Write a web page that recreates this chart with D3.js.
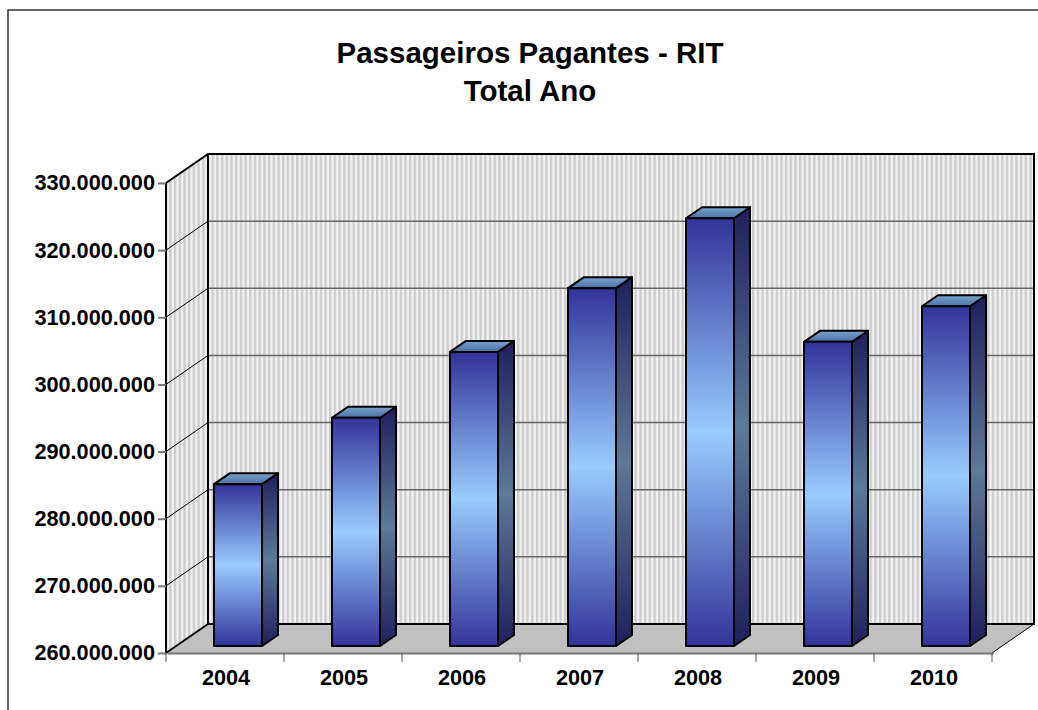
<!DOCTYPE html>
<html>
<head>
<meta charset="utf-8">
<script src="https://cdn.jsdelivr.net/npm/d3@7"></script>
<style>
  html, body { margin: 0; padding: 0; background: #fff; overflow: hidden; }
  text { font-family: "Liberation Sans", Arial, sans-serif; font-weight: bold; fill: #000; }
</style>
</head>
<body>
<script>
const years = ['2004', '2005', '2006', '2007', '2008', '2009', '2010'];
const passengers = [284100000, 294000000, 303800000, 313300000, 323700000, 305300000, 310600000];
const yTicks = [260000000, 270000000, 280000000, 290000000, 300000000, 310000000, 320000000, 330000000];
const titleLines = ['Passageiros Pagantes - RIT', 'Total Ano'];

const w = 1038, h = 710;
let left = 166, right = 992, top_ = 183, bottom = 653;
let depthX = 42, depthY = 29;   // wall offset
let barDx = 13, barDy = 7;      // bar front face sits inside the floor
let barW = 48, barDepthX = 16, barDepthY = 11;

let xScale = d3.scaleBand().domain(years).range([left, right]);
let yScale = d3.scaleLinear().domain([260000000, 330000000]).range([bottom, top_]);

let svg = d3.select('body').append('svg').attr('width', w).attr('height', h)
  .style('display', 'block');

let defs = svg.append('defs');

// hatched wall
let pat = defs.append('pattern').attr('id', 'wall')
  .attr('patternUnits', 'userSpaceOnUse').attr('width', 4.7).attr('height', 10);
pat.append('rect').attr('width', 4.7).attr('height', 10).attr('fill', '#f2f2f2');
pat.append('rect').attr('x', 0).attr('width', 2.4).attr('height', 10).attr('fill', '#cccccc');

let addGrad = (id, x2, y2, stops) => {
  let g = defs.append('linearGradient').attr('id', id)
    .attr('x1', 0).attr('y1', 0).attr('x2', x2).attr('y2', y2);
  stops.forEach(s => g.append('stop').attr('offset', s[0]).attr('stop-color', s[1]));
};
addGrad('front', 0, 1, [[0, '#333399'], [0.5, '#99ccff'], [1, '#333399']]);
addGrad('side', 0, 1, [[0, '#1f1f5c'], [0.5, '#5c7a99'], [1, '#1f1f5c']]);
addGrad('cap', 0, 1, [[0, '#7aa3cc'], [1, '#4d6fa8']]);

// chart frame
svg.append('path')
  .attr('d', d3.line()([[8, h], [8, 10], [w, 10]]))
  .attr('fill', 'none').attr('stroke', '#333').attr('stroke-width', 1.5);

let yBack = v => yScale(v) - depthY;
let backL = left + depthX, backR = right + depthX;

// walls
svg.append('rect').attr('x', backL).attr('y', top_ - depthY)
  .attr('width', backR - backL).attr('height', bottom - top_)
  .attr('fill', 'url(#wall)');
svg.append('polygon')
  .attr('points', [[left, top_], [backL, top_ - depthY], [backL, bottom - depthY], [left, bottom]].join(' '))
  .attr('fill', 'url(#wall)');

// floor
svg.append('polygon')
  .attr('points', [[left, bottom], [backL, bottom - depthY], [backR, bottom - depthY], [right, bottom]].join(' '))
  .attr('fill', '#c0c0c0');

// gridlines
svg.selectAll('line.grid').data(yTicks.slice(1, -1)).enter().append('line')
  .attr('class', 'grid')
  .attr('x1', backL).attr('x2', backR)
  .attr('y1', yBack).attr('y2', yBack)
  .attr('stroke', '#666').attr('stroke-width', 1.5);
svg.selectAll('line.gridside').data(yTicks.slice(1, -1)).enter().append('line')
  .attr('class', 'gridside')
  .attr('x1', left).attr('x2', backL)
  .attr('y1', d => yScale(d)).attr('y2', yBack)
  .attr('stroke', '#000').attr('stroke-width', 1);

// wall outlines
svg.append('path')
  .attr('d', d3.line()([[left, bottom], [left, top_], [backL, top_ - depthY], [backR, top_ - depthY], [backR, bottom - depthY], [backL, bottom - depthY], [backL, top_ - depthY]]))
  .attr('fill', 'none').attr('stroke', '#000').attr('stroke-width', 2);
svg.append('line').attr('x1', left).attr('y1', bottom).attr('x2', backL).attr('y2', bottom - depthY)
  .attr('stroke', '#000').attr('stroke-width', 2);
svg.append('line').attr('x1', right).attr('y1', bottom).attr('x2', backR).attr('y2', bottom - depthY)
  .attr('stroke', '#000').attr('stroke-width', 1);

// axes
let yAxis = d3.axisLeft(yScale).tickValues(yTicks).tickSize(8).tickPadding(3)
  .tickFormat(d => d3.format(',')(d).replace(/,/g, '.'));
let yG = svg.append('g').attr('transform', 'translate(' + left + ',0)').call(yAxis);
yG.select('.domain').remove();
yG.selectAll('line').attr('stroke', '#777').attr('stroke-width', 2);
yG.selectAll('text').style('font-size', '21.7px').attr('dy', '0.32em');

let xAxis = d3.axisBottom(xScale).tickSize(0).tickPadding(17);
let xG = svg.append('g').attr('transform', 'translate(1,' + bottom + ')').call(xAxis);
xG.select('.domain').attr('stroke', '#777').attr('stroke-width', 2);
xG.selectAll('text').style('font-size', '21.7px');
xG.selectAll('line.sep').data(d3.range(years.length + 1)).enter().append('line')
  .attr('class', 'sep')
  .attr('x1', i => left - 1 + i * xScale.step()).attr('x2', i => left - 1 + i * xScale.step())
  .attr('y1', 0).attr('y2', 9)
  .attr('stroke', '#555').attr('stroke-width', 1);

// bars
let barX = d => xScale(d) + xScale.bandwidth() / 2 - barW / 2 + barDx;
let bars = svg.selectAll('g.bar').data(years.map((y, i) => ({ y: y, v: passengers[i] })))
  .enter().append('g').attr('class', 'bar')
  .attr('stroke', '#000').attr('stroke-width', 2).attr('stroke-linejoin', 'round');

bars.append('polygon').attr('fill', 'url(#side)')
  .attr('points', d => {
    let x = barX(d.y) + barW, t = yScale(d.v) - barDy, b = bottom - barDy;
    return [[x, t], [x + barDepthX, t - barDepthY], [x + barDepthX, b - barDepthY], [x, b]].join(' ');
  });
bars.append('polygon').attr('fill', 'url(#cap)')
  .attr('points', d => {
    let x = barX(d.y), t = yScale(d.v) - barDy;
    return [[x, t], [x + barDepthX, t - barDepthY], [x + barW + barDepthX, t - barDepthY], [x + barW, t]].join(' ');
  });
bars.append('rect').attr('fill', 'url(#front)')
  .attr('x', d => barX(d.y)).attr('width', barW)
  .attr('y', d => yScale(d.v) - barDy)
  .attr('height', d => bottom - yScale(d.v));

// title
svg.selectAll('text.title').data(titleLines).enter().append('text')
  .attr('class', 'title')
  .attr('x', 530).attr('y', (d, i) => 63 + i * 38)
  .attr('text-anchor', 'middle')
  .style('font-size', '29.5px')
  .text(d => d);
</script>
</body>
</html>
